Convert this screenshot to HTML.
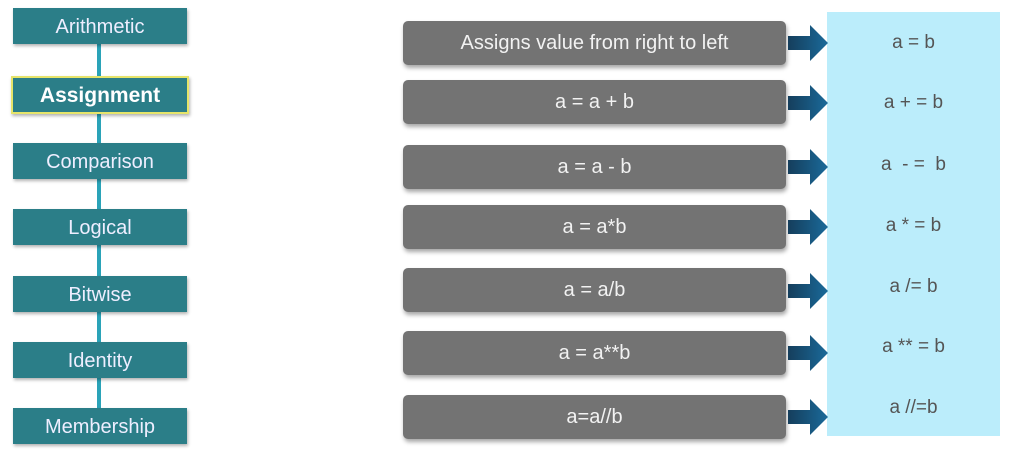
<!DOCTYPE html>
<html><head><style>
body{margin:0;width:1012px;height:458px;background:#fff;position:relative;overflow:hidden;font-family:"Liberation Sans",sans-serif}
.l{position:absolute;left:13px;width:174px;height:36px;background:#2b7e88;color:#eef;font-size:20px;line-height:38px;text-align:center;box-shadow:1px 2px 3px rgba(0,0,0,.3)}
.g{position:absolute;left:403px;width:383px;height:44px;background:#737373;color:#f2f2f2;font-size:20px;line-height:44px;text-align:center;border-radius:5px;box-shadow:1px 3px 4px rgba(0,0,0,.35)}
.r{position:absolute;left:827px;width:173px;text-align:center;color:#555;font-size:19px}
svg{position:absolute;left:0;top:0}
</style></head><body>
<div style="position:absolute;left:97px;top:30px;width:4px;height:400px;background:#2aa3b8"></div>
<div class="l" style="top:8px">Arithmetic</div>
<div class="l" style="top:76px;font-weight:bold;font-size:21px;border:2px solid #e6e46a;left:11px;height:34px;line-height:36px;color:#fff">Assignment</div>
<div class="l" style="top:143px">Comparison</div>
<div class="l" style="top:209px">Logical</div>
<div class="l" style="top:276px">Bitwise</div>
<div class="l" style="top:342px">Identity</div>
<div class="l" style="top:408px">Membership</div>
<div style="position:absolute;left:827px;top:12px;width:173px;height:424px;background:#bbedfb"></div>
<div class="g" style="top:21px">Assigns value from right to left</div>
<div class="g" style="top:80px">a = a + b</div>
<div class="g" style="top:145px">a = a - b</div>
<div class="g" style="top:205px">a = a*b</div>
<div class="g" style="top:268px">a = a/b</div>
<div class="g" style="top:331px">a = a**b</div>
<div class="g" style="top:395px">a=a//b</div>
<svg width="1012" height="458">
<defs><linearGradient id="a" x1="0" x2="1"><stop offset="0" stop-color="#153e5c"/><stop offset="1" stop-color="#1a6a9a"/></linearGradient></defs>
<g fill="url(#a)">
<path d="M788 36h22v-11l18 18-18 18v-11h-22z"/>
<path d="M788 96h22v-11l18 18-18 18v-11h-22z"/>
<path d="M788 160h22v-11l18 18-18 18v-11h-22z"/>
<path d="M788 220h22v-11l18 18-18 18v-11h-22z"/>
<path d="M788 284h22v-11l18 18-18 18v-11h-22z"/>
<path d="M788 346h22v-11l18 18-18 18v-11h-22z"/>
<path d="M788 410h22v-11l18 18-18 18v-11h-22z"/>
</g></svg>
<div class="r" style="top:32px">a = b</div>
<div class="r" style="top:92px">a + = b</div>
<div class="r" style="top:154px">a &nbsp;- = &nbsp;b</div>
<div class="r" style="top:215px">a * = b</div>
<div class="r" style="top:276px">a /= b</div>
<div class="r" style="top:336px">a ** = b</div>
<div class="r" style="top:397px">a //=b</div>
</body></html>
